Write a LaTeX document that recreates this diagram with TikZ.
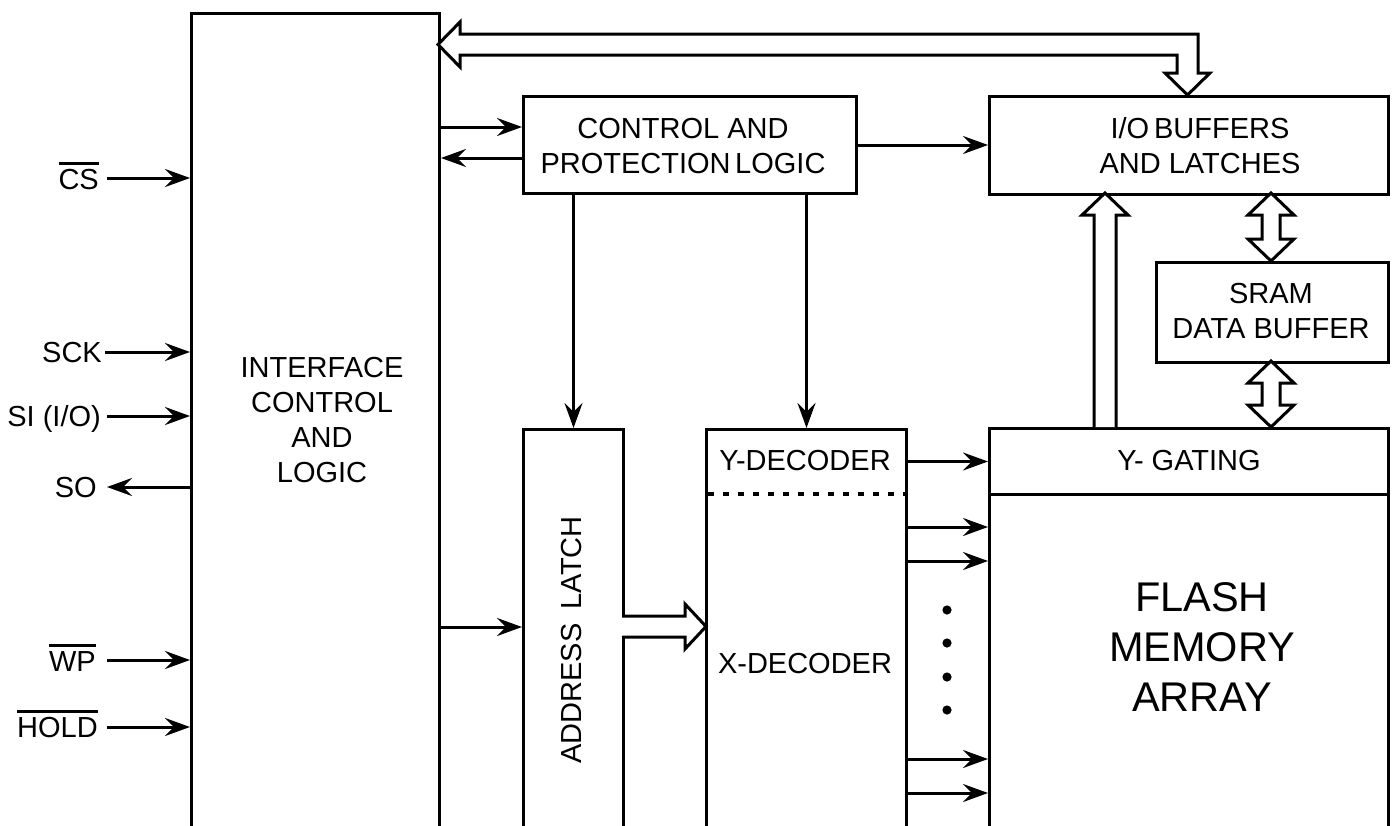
\documentclass[tikz,border=0pt]{standalone}
\usepackage{fontspec}
\setmainfont{Liberation Sans}
\usetikzlibrary{arrows.meta}
\newcommand\myovl[1]{\setbox0\hbox{#1}\rlap{\rule[24.5pt]{\wd0}{2.6pt}}\box0}
\begin{document}
\begin{tikzpicture}[x=1pt,y=-1pt,
  box/.style={draw, line width=3pt, inner sep=0pt, anchor=north west},
  arr/.style={line width=3pt, -{Stealth[length=25pt,width=18pt,inset=9pt]}},
  hollow/.style={draw, fill=white, line width=3pt, line join=miter},
  txt/.style={font=\fontsize{29}{35}\selectfont, align=center, inner sep=0pt},
  big/.style={font=\fontsize{41.5}{50}\selectfont, align=center, inner sep=0pt},
  sig/.style={font=\fontsize{29}{35}\selectfont, anchor=base east, inner sep=0pt}]
\useasboundingbox (0,0) rectangle (1395,825);
\clip (0,0) rectangle (1395,825);

% boxes
\node[box, minimum width=248pt, minimum height=850pt] (intf) at (190,12) {};
\node[box, minimum width=333pt, minimum height=97pt] (ctrl) at (522,95) {};
\node[box, minimum width=399pt, minimum height=98pt] (io) at (988,95) {};
\node[box, minimum width=232pt, minimum height=100pt] (sram) at (1155,261) {};
\node[box, minimum width=399pt, minimum height=66pt] (ygate) at (988,427) {};
\node[box, minimum width=399pt, minimum height=360pt] (flash) at (988,493) {};
\node[box, minimum width=100pt, minimum height=420pt] (latch) at (522,428) {};
\node[box, minimum width=200pt, minimum height=420pt] (xdec) at (705,428) {};

% dotted separator in decoder
\coordinate (dl) at (708,494);
\coordinate (dr) at (905,494);
\draw[line width=4.5pt, dash pattern=on 6pt off 9pt] (dl) -- (dr);

% texts
\node[txt] (intft) at (322,420) {INTERFACE\\CONTROL\\AND\\LOGIC};
\node[txt] (ctrlt) at (683,146) {CONTROL AND\\PROTECTION\hspace{-0.12em} LOGIC};
\node[txt] (iot) at (1200,146) {I/O\,BUFFERS\\AND LATCHES};
\node[txt] (sramt) at (1271,311) {SRAM\\DATA BUFFER};
\node[txt] (ygt) at (1189,461) {Y- GATING};
\node[txt] (ydt) at (805,461) {Y-DECODER};
\node[txt] (xdt) at (805,664) {X-DECODER};
\node[txt, rotate=90] (lat) at (572,640) {ADDRESS\hspace{0.5em}LATCH};
\node[big] (flt) at (1202,647) {FLASH\\MEMORY\\ARRAY};

% control arrows
\draw[arr] (intf.east |- 0,127) -- (ctrl.west |- 0,127);
\draw[arr] (ctrl.west |- 0,158) -- (intf.east |- 0,158);
\draw[arr] (ctrl.east |- 0,145) -- (io.west |- 0,145);
\draw[arr] (ctrl.south -| latch.north) -- (latch.north);
\draw[arr] (ctrl.south -| xdec.north) -- (xdec.north);
\draw[arr] (xdec.east |- ygate.west) -- (ygate.west);
\draw[arr] (intf.east |- 0,627) -- (latch.west |- 0,627);
\foreach \yy in {527,561,759,793}
  \draw[arr] (xdec.east |- 0,\yy) -- (flash.west |- 0,\yy);

% dots
\foreach \yy in {610,643,677,710}
  \fill (947,\yy) circle (4.6pt);

% hollow arrows
\draw[hollow] (438,44.5) -- (460,22) -- (460,34) -- (1198,34) -- (1198,73) -- (1210,73)
  -- (1187.5,95) -- (1165,73) -- (1177,73) -- (1177,55) -- (460,55) -- (460,67) -- cycle;
\draw[hollow] (1094,427) -- (1094,215) -- (1082,215) -- (1105,193) -- (1128,215)
  -- (1116,215) -- (1116,427);
\draw[hollow] (1271,193) -- (1294,215) -- (1280,215) -- (1280,239) -- (1294,239)
  -- (1271,261) -- (1248,239) -- (1262,239) -- (1262,215) -- (1248,215) -- cycle;
\draw[hollow] (1271,361) -- (1294,383) -- (1280,383) -- (1280,405) -- (1294,405)
  -- (1271,427) -- (1248,405) -- (1262,405) -- (1262,383) -- (1248,383) -- cycle;
\draw[hollow] (622,616) -- (685,616) -- (685,604) -- (706,626.5) -- (685,649)
  -- (685,637) -- (622,637);

% left signals
\node[sig] (cs) at (99,189) {\myovl{CS}};
\node[sig] (sck) at (102,362) {SCK};
\node[sig] (si) at (101,426) {SI (I/O)};
\node[sig] (so) at (97,497) {SO};
\node[sig] (wp) at (96,671) {\myovl{WP}};
\node[sig] (hold) at (98,737) {\myovl{HOLD}};
\draw[arr] (107,178) -- (intf.west |- 0,178);
\draw[arr] (105,352) -- (intf.west |- 0,352);
\draw[arr] (107,416) -- (intf.west |- 0,416);
\draw[arr] (intf.west |- 0,487) -- (107,487);
\draw[arr] (107,660) -- (intf.west |- 0,660);
\draw[arr] (107,727) -- (intf.west |- 0,727);
\end{tikzpicture}
\end{document}
